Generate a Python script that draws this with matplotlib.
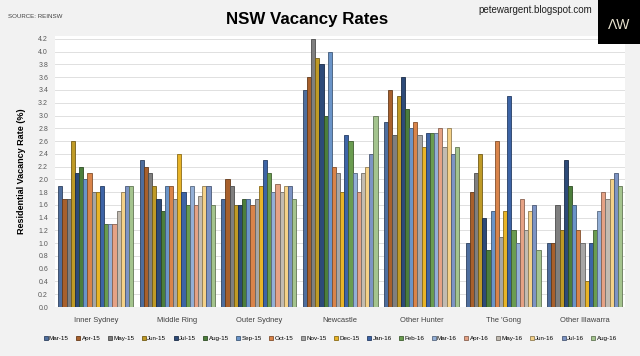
import matplotlib
matplotlib.use("Agg")
import matplotlib.pyplot as plt
import matplotlib.colors as mcolors
from matplotlib.patches import Rectangle
import numpy as np

plt.rcParams['font.family'] = ['Liberation Sans', 'DejaVu Sans']

regions = ["Inner Sydney", "Middle Ring", "Outer Sydney", "Newcastle",
           "Other Hunter", "The 'Gong", "Other Illawarra"]
months = ["Mar-15", "Apr-15", "May-15", "Jun-15", "Jul-15", "Aug-15",
          "Sep-15", "Oct-15", "Nov-15", "Dec-15", "Jan-16", "Feb-16",
          "Mar-16", "Apr-16", "May-16", "Jun-16", "Jul-16", "Aug-16"]

# vacancy rate (%) per region, Mar-15 .. Aug-16
inner_sydney = [1.9, 1.7, 1.7, 2.6, 2.1, 2.2, 2.0, 2.1, 1.8, 1.8, 1.9, 1.3, 1.3, 1.3, 1.5, 1.8, 1.9, 1.9]
middle_ring = [2.3, 2.2, 2.1, 1.9, 1.7, 1.5, 1.9, 1.9, 1.7, 2.4, 1.8, 1.6, 1.9, 1.6, 1.74, 1.9, 1.9, 1.6]
outer_sydney = [1.7, 2.0, 1.9, 1.6, 1.6, 1.7, 1.7, 1.6, 1.7, 1.9, 2.3, 2.1, 1.8, 1.93, 1.8, 1.9, 1.9, 1.7]
newcastle = [3.4, 3.6, 4.2, 3.9, 3.8, 3.0, 4.0, 2.2, 2.1, 1.8, 2.7, 2.6, 2.1, 1.8, 2.1, 2.2, 2.4, 3.0]
other_hunter = [2.9, 3.4, 2.7, 3.3, 3.6, 3.1, 2.8, 2.9, 2.7, 2.5, 2.73, 2.73, 2.73, 2.8, 2.5, 2.8, 2.4, 2.5]
the_gong = [1.0, 1.8, 2.1, 2.4, 1.4, 0.9, 1.5, 2.6, 1.1, 1.5, 3.3, 1.2, 1.0, 1.7, 1.2, 1.5, 1.6, 0.9]
other_illawarra = [1.0, 1.0, 1.6, 1.2, 2.3, 1.9, 1.6, 1.2, 1.0, 0.4, 1.0, 1.2, 1.5, 1.8, 1.7, 2.0, 2.1, 1.9]

data = np.array([inner_sydney, middle_ring, outer_sydney, newcastle,
                 other_hunter, the_gong, other_illawarra])

colors = ['#4E6E9E', '#A8602C', '#7F7F7F', '#BF9A26', '#2D4A78', '#4C7E3C',
          '#6A94C8', '#D9844A', '#A6A6A6', '#E8B428', '#3D64A6', '#6A9C50',
          '#93AFD6', '#E5A285', '#C2BBB1', '#F4D188', '#7D94C4', '#A4C48E']

bg = '#F2F2F2'
fig = plt.figure(figsize=(6.4, 3.56), dpi=100, facecolor=bg)
ax = fig.add_axes([0.086, 0.1376, 0.891, 0.762])
ax.set_facecolor('white')

n = len(months)
group_w = 0.92
w = group_w / n
x = np.arange(len(regions))
for i, m in enumerate(months):
    edge = np.array(mcolors.to_rgb(colors[i])) * 0.6
    ax.bar(x - group_w / 2 + w * (i + 0.5), data[:, i], width=w,
           color=colors[i], edgecolor=edge, linewidth=0.6, label=m, zorder=3)

ax.set_xlim(-0.5, len(regions) - 0.5)
ax.set_ylim(0, 4.25)
ax.set_yticks(np.arange(0, 4.21, 0.2))
ax.set_yticklabels(["%.1f" % v for v in np.arange(0, 4.21, 0.2)])
ax.grid(axis='y', color='#E0E0E0', linewidth=0.7, zorder=0)
ax.set_xticks(x)
ax.set_xticklabels(regions)
ax.tick_params(axis='x', length=0, labelsize=5.4, colors='#404040', pad=7)
ax.tick_params(axis='y', length=0, labelsize=5.0, colors='#595959', pad=5)
for s in ax.spines.values():
    s.set_visible(False)

ax.set_ylabel("Residential Vacancy Rate (%)", fontsize=6.5, fontweight='bold',
              labelpad=9)

fig.text(0.48, 0.945, "NSW Vacancy Rates", ha='center', va='center',
         fontsize=12.2, fontweight='bold')
fig.text(0.012, 0.953, "SOURCE: REINSW", fontsize=4.4, color='#404040',
         ha='left', va='center')
fig.text(0.925, 0.972, "petewargent.blogspot.com", fontsize=7.0, color='#202020',
         ha='right', va='center')

fig.patches.append(Rectangle((0.935, 0.877), 0.065, 0.123, transform=fig.transFigure,
                             facecolor='black', edgecolor='none', zorder=5))
fig.text(0.967, 0.93, "ΛW", color='#E8E2CF', fontsize=10, ha='center',
         va='center', zorder=6)

fig.legend(loc='center', bbox_to_anchor=(0.516, 0.05), ncol=n, frameon=False,
           handlelength=0.65, handleheight=0.65, handletextpad=0.2,
           columnspacing=1.2, borderaxespad=0, prop={'size': 4.5})

fig.savefig("out.png", dpi=100, facecolor=bg)
